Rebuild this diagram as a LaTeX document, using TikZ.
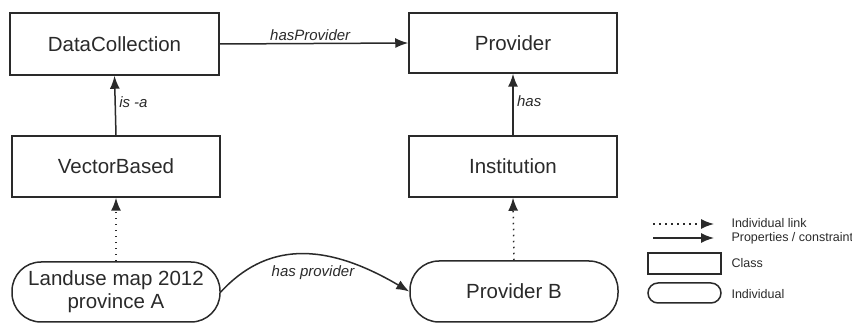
\documentclass[tikz,border=0pt]{standalone}
\usepackage{fontspec}
\setmainfont{Liberation Sans}
\usetikzlibrary{arrows.meta}
\definecolor{ink}{HTML}{2A2A2A}
\begin{document}
\begin{tikzpicture}[x=1pt,y=-1pt,
  every node/.style={text=ink},
  classbox/.style={draw=ink,line width=1.5pt,rectangle,inner sep=0pt,font=\fontsize{20.5}{22}\selectfont},
  indiv/.style={draw=ink,line width=1.5pt,rectangle,rounded corners=29pt,inner sep=0pt,align=center,font=\fontsize{20.5}{23}\selectfont},
  rel/.style={draw=ink,line width=1.5pt,-{Latex[length=13pt,width=10pt]}},
  indlink/.style={draw=ink,line width=1.5pt,dash pattern=on 1.5pt off 4.5pt,-{Latex[length=13pt,width=10pt]}},
  lbl/.style={font=\itshape\fontsize{15}{17}\selectfont},
  leg/.style={font=\fontsize{12.5}{14}\selectfont,anchor=west}]
\useasboundingbox (0,0) rectangle (852,323);
\node[classbox,minimum width=209pt,minimum height=62pt] (dc) at (114.5,44) {DataCollection};
\node[classbox,minimum width=208pt,minimum height=60pt] (pr) at (513,43) {Provider};
\node[classbox,minimum width=208pt,minimum height=61pt] (vb) at (116,166.5) {VectorBased};
\node[classbox,minimum width=208pt,minimum height=61pt] (in) at (513,166.5) {Institution};
\node[indiv,minimum width=208pt,minimum height=60pt] (lu) at (116,292) {Landuse map 2012\\province A};
\node[indiv,minimum width=208pt,minimum height=61pt] (pb) at (514,291.5) {Provider B};

\draw[rel] (dc.east) -- node[lbl,above,pos=0.48,yshift=-1pt] {hasProvider} (pr.west);
\draw[rel] (vb.north) -- node[lbl,right,pos=0.55] {is -a} (dc.south);
\draw[rel] (in.north) -- node[lbl,right,pos=0.55] {has} (pr.south);
\draw[indlink] (lu.north) -- (vb.south);
\draw[indlink] (pb.north) -- (in.south);
\draw[rel] (lu.east) .. controls (265,244) and (322,240) .. (pb.west);
\node[lbl] (hp) at (313,273) {has provider};

% legend
\coordinate (l1a) at (653,224); \coordinate (l1b) at (714,224);
\coordinate (l2a) at (653,238); \coordinate (l2b) at (714,238);
\draw[indlink] (l1a) -- (l1b);
\draw[rel] (l2a) -- (l2b);
\node[leg] (t1) at (728,223) {Individual link};
\node[leg] (t2) at (728,238) {Properties / constraint};
\node[draw=ink,line width=1.5pt,rectangle,minimum width=73pt,minimum height=21pt,inner sep=0pt] (lc) at (684.5,263.5) {};
\node[leg] (t3) at (728,263) {Class};
\node[draw=ink,line width=1.5pt,rectangle,rounded corners=10pt,minimum width=73pt,minimum height=20pt,inner sep=0pt] (li) at (684.5,293) {};
\node[leg] (t4) at (728,294) {Individual};
\end{tikzpicture}
\end{document}
